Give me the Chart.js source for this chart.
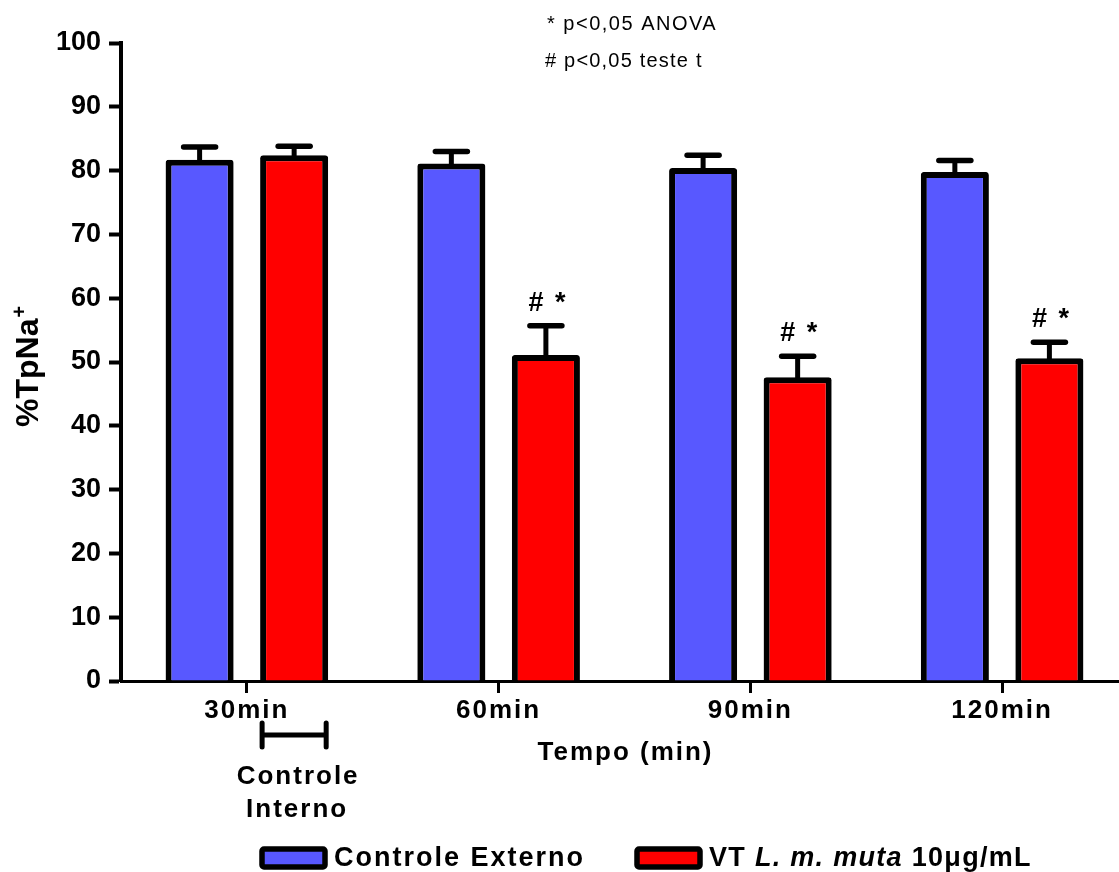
<!DOCTYPE html>
<html>
<head>
<meta charset="utf-8">
<script src="https://cdn.jsdelivr.net/npm/chart.js@4.4.1/dist/chart.umd.min.js"></script>
<style>
html, body { margin: 0; padding: 0; background: #fff; overflow: hidden; }
#wrap { width: 1128px; height: 872px; }
</style>
</head>
<body>
<div id="wrap"><canvas id="graph" width="1128" height="872"></canvas></div>
<script>
var categories = ["30min", "60min", "90min", "120min"];
var seriesNames = ["Controle Externo", "VT L. m. muta 10\u03bcg/mL"];
var italicPart = "L. m. muta";
var externo = [81.7, 81.1, 80.4, 79.8];
var externoSem = [2.0, 1.9, 2.0, 1.8];
var veneno = [82.4, 51.1, 47.6, 50.6];
var venenoSem = [1.4, 4.6, 3.3, 2.5];
var marks = ["", "# *", "# *", "# *"];
var notes = ["* p<0,05 ANOVA", "# p<0,05 teste t"];
var yMin = 0, yMax = 100, yStep = 10;
var xTitle = "Tempo (min)";
var yTitle = "%TpNa";
var internalLabel = ["Controle", "Interno"];

var family = '"Liberation Sans", Arial, Helvetica, sans-serif';
function font(size, style) {
  return (style || "bold") + " " + size + "px " + family;
}
var colors = ["#5858ff", "#ff0000"];
var sems = [externoSem, venenoSem];

Chart.defaults.font.family = family;
Chart.defaults.color = "#000";

var extras = {
  id: "extras",
  afterLayout: function (chart) {
    var s = chart.scales.x;
    if (!s._spaced) {
      var orig = s.drawLabels;
      s.drawLabels = function (area) {
        chart.ctx.save();
        chart.ctx.letterSpacing = "2px";
        orig.call(s, area);
        chart.ctx.restore();
      };
      s._spaced = true;
    }
  },
  afterDatasetsDraw: function (chart) {
    var ctx = chart.ctx, y = chart.scales.y;
    ctx.save();
    ctx.strokeStyle = "#000";
    ctx.fillStyle = "#000";
    chart.data.datasets.forEach(function (ds, di) {
      chart.getDatasetMeta(di).data.forEach(function (bar, i) {
        var top = y.getPixelForValue(ds.data[i] + sems[di][i]);
        ctx.lineWidth = 5;
        ctx.lineCap = "butt";
        ctx.beginPath();
        ctx.moveTo(bar.x, bar.y + 2);
        ctx.lineTo(bar.x, top);
        ctx.stroke();
        ctx.lineWidth = 5.5;
        ctx.lineCap = "round";
        ctx.beginPath();
        ctx.moveTo(bar.x - 16, top);
        ctx.lineTo(bar.x + 16, top);
        ctx.stroke();
        if (di === 1 && marks[i]) {
          ctx.font = font(27);
          ctx.letterSpacing = "2px";
          ctx.textAlign = "center";
          ctx.textBaseline = "alphabetic";
          ctx.fillText(marks[i], bar.x + 2, top - 15);
          ctx.letterSpacing = "0px";
        }
      });
    });
    ctx.restore();
  },
  afterDraw: function (chart) {
    var ctx = chart.ctx, area = chart.chartArea;
    ctx.save();
    ctx.fillStyle = "#000";
    ctx.strokeStyle = "#000";

    // bracket under the first red bar
    var ref = chart.getDatasetMeta(1).data[0];
    var x1 = ref.x - ref.width / 2 + 2, x2 = ref.x + ref.width / 2 - 2;
    ctx.lineWidth = 5;
    ctx.lineCap = "round";
    ctx.beginPath();
    ctx.moveTo(x1, 735); ctx.lineTo(x2, 735);
    ctx.moveTo(x1, 723); ctx.lineTo(x1, 747);
    ctx.moveTo(x2, 723); ctx.lineTo(x2, 747);
    ctx.stroke();
    ctx.font = font(26);
    ctx.letterSpacing = "2px";
    ctx.textAlign = "center";
    ctx.textBaseline = "alphabetic";
    ctx.fillText(internalLabel[0], ref.x + 4, 784);
    ctx.fillText(internalLabel[1], ref.x + 3, 817);

    // x title
    ctx.fillText(xTitle, (area.left + area.right) / 2 + 1, 760);

    // notes at top
    ctx.font = font(20, "normal");
    ctx.textAlign = "left";
    ctx.letterSpacing = "1.5px";
    ctx.fillText(notes[0], 547, 30);
    ctx.letterSpacing = "1.2px";
    ctx.fillText(notes[1], 545, 67);

    // y title with superscript
    ctx.letterSpacing = "0px";
    ctx.save();
    ctx.translate(38, 427);
    ctx.rotate(-Math.PI / 2);
    ctx.font = font(32);
    ctx.fillText(yTitle, 0, 0);
    var w = ctx.measureText(yTitle).width;
    ctx.font = font(20);
    ctx.fillText("+", w + 1, -12);
    ctx.restore();

    // legend
    var boxes = [262, 637];
    var spacing = ["2px", "1.3px"];
    ctx.textAlign = "left";
    seriesNames.forEach(function (name, k) {
      var bx = boxes[k];
      ctx.beginPath();
      ctx.roundRect(bx, 849, 63, 18, 2);
      ctx.fillStyle = colors[k];
      ctx.fill();
      ctx.lineWidth = 5.5;
      ctx.strokeStyle = "#000";
      ctx.stroke();
      ctx.fillStyle = "#000";
      ctx.letterSpacing = spacing[k];
      var tx = bx + 72;
      var parts;
      var at = name.indexOf(italicPart);
      if (at >= 0) {
        parts = [[name.slice(0, at), "bold"], [italicPart, "italic bold"], [name.slice(at + italicPart.length), "bold"]];
      } else {
        parts = [[name, "bold"]];
      }
      parts.forEach(function (p) {
        ctx.font = font(27, p[1]);
        ctx.fillText(p[0], tx, 866);
        tx += ctx.measureText(p[0]).width;
      });
    });
    ctx.restore();
  }
};

var data = {
  labels: categories,
  datasets: [{
    label: seriesNames[0],
    data: externo,
    backgroundColor: colors[0]
  }, {
    label: seriesNames[1],
    data: veneno,
    backgroundColor: colors[1]
  }]
};

var config = {
  type: "bar",
  data: data,
  options: {
    responsive: false,
    animation: false,
    devicePixelRatio: 1,
    layout: { padding: { top: 43, left: 0, right: 0, bottom: 0 } },
    datasets: {
      bar: {
        borderColor: "#000",
        borderWidth: 6,
        borderRadius: 3,
        categoryPercentage: 0.751,
        barPercentage: 0.72
      }
    },
    plugins: {
      legend: { display: false },
      tooltip: { enabled: false }
    },
    scales: {
      x: {
        ticks: { font: { size: 26, weight: "bold" }, padding: 2, maxRotation: 0, autoSkip: false },
        grid: { offset: false, drawOnChartArea: false, tickLength: 12, tickWidth: 3, color: "#000" },
        border: { display: true, width: 3, color: "#000" },
        afterFit: function (s) { s.height = 191; }
      },
      y: {
        min: yMin,
        max: yMax,
        ticks: { stepSize: yStep, font: { size: 27, weight: "bold" }, padding: 8 },
        grid: { drawOnChartArea: false, tickLength: 12, tickWidth: 4, color: "#000" },
        border: { display: true, width: 4, color: "#000" },
        afterFit: function (s) { s.width = 121; }
      }
    }
  },
  plugins: [extras]
};

new Chart(document.getElementById("graph"), config);
</script>
</body>
</html>
